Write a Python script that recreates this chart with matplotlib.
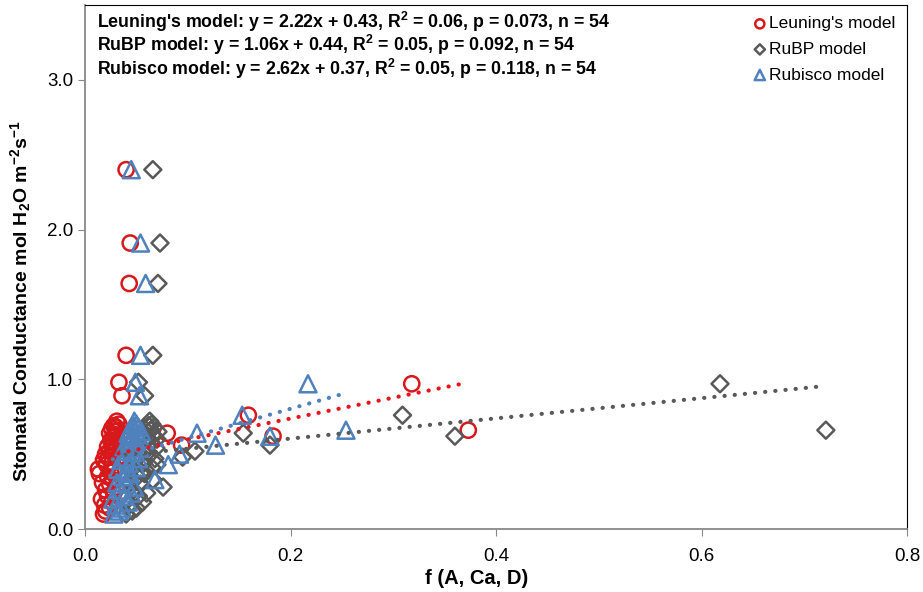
import matplotlib
matplotlib.use('Agg')
import matplotlib.pyplot as plt
import numpy as np

plt.rcParams['font.family'] = ['Liberation Sans', 'DejaVu Sans']
plt.rcParams['mathtext.fontset'] = 'custom'
plt.rcParams['mathtext.rm'] = 'Liberation Sans:bold'
plt.rcParams['mathtext.default'] = 'rm'

# observed stomatal conductance (shared by the three models)
gs = [2.40, 1.91, 1.64, 1.16, 0.98, 0.89, 0.97, 0.66, 0.76, 0.62, 0.64, 0.56,
      0.10, 0.12, 0.14, 0.16, 0.18, 0.20, 0.22, 0.24, 0.26, 0.28, 0.30, 0.31,
      0.33, 0.35, 0.37, 0.38, 0.40, 0.41, 0.43, 0.44, 0.46, 0.47, 0.48, 0.50,
      0.51, 0.52, 0.54, 0.55, 0.56, 0.58, 0.59, 0.60, 0.61, 0.63, 0.64, 0.65,
      0.66, 0.67, 0.68, 0.69, 0.70, 0.72]

# f(A, Ca, D) for each model
leuning_x = [0.040, 0.044, 0.043, 0.040, 0.033, 0.036, 0.318, 0.373, 0.159, 0.183, 0.080, 0.094,
             0.018, 0.020, 0.024, 0.019, 0.026, 0.016, 0.022, 0.028, 0.020, 0.030, 0.024, 0.017,
             0.027, 0.022, 0.014, 0.025, 0.013, 0.029, 0.021, 0.026, 0.018, 0.031, 0.023, 0.020,
             0.027, 0.024, 0.030, 0.022, 0.026, 0.028, 0.025, 0.031, 0.027, 0.029, 0.024, 0.030,
             0.032, 0.026, 0.030, 0.028, 0.033, 0.031]
rubp_x = [0.066, 0.073, 0.071, 0.066, 0.052, 0.058, 0.618, 0.721, 0.309, 0.360, 0.154, 0.180,
          0.040, 0.046, 0.050, 0.043, 0.056, 0.039, 0.052, 0.060, 0.047, 0.076, 0.054, 0.044,
          0.066, 0.051, 0.058, 0.055, 0.045, 0.065, 0.070, 0.057, 0.049, 0.068, 0.095, 0.053,
          0.061, 0.107, 0.069, 0.052, 0.062, 0.064, 0.057, 0.070, 0.060, 0.066, 0.056, 0.071,
          0.064, 0.058, 0.067, 0.062, 0.065, 0.063]
rubisco_x = [0.045, 0.054, 0.059, 0.054, 0.049, 0.053, 0.217, 0.254, 0.153, 0.180, 0.109, 0.127,
             0.028, 0.033, 0.036, 0.030, 0.042, 0.027, 0.038, 0.045, 0.034, 0.048, 0.040, 0.031,
             0.068, 0.037, 0.044, 0.041, 0.032, 0.050, 0.081, 0.043, 0.035, 0.052, 0.039, 0.092,
             0.046, 0.041, 0.053, 0.038, 0.047, 0.049, 0.043, 0.054, 0.046, 0.051, 0.042, 0.055,
             0.049, 0.044, 0.052, 0.047, 0.050, 0.048]

# trend lines as drawn (slope, intercept)
leuning_fit = (1.39, 0.46)
rubp_fit = (0.675, 0.469)
rubisco_fit = (1.95, 0.413)

stats = ["Leuning's model: y = 2.22x + 0.43, R$^2$ = 0.06, p = 0.073, n = 54",
         "RuBP model: y = 1.06x + 0.44, R$^2$ = 0.05, p = 0.092, n = 54",
         "Rubisco model: y = 2.62x + 0.37, R$^2$ = 0.05, p = 0.118, n = 54"]

red = '#E8141B'
gray = '#595959'
blue = '#4F81BD'

fig = plt.figure(figsize=(9.23, 5.92), dpi=100)
ax = fig.add_axes([0.0921, 0.1064, 0.8906, 0.8852])

ax.scatter(leuning_x, gs, s=120, marker='o', facecolors='none', edgecolors='#D7191C',
           linewidths=1.8, label="Leuning's model", zorder=2)
ax.scatter(rubp_x, gs, s=75, marker='D', facecolors='none', edgecolors=gray,
           linewidths=1.8, label='RuBP model', zorder=2)
ax.scatter(rubisco_x, gs, s=150, marker='^', facecolors='none', edgecolors=blue,
           linewidths=1.8, label='Rubisco model', zorder=3)

for xs, fit, c in [(rubp_x, rubp_fit, gray), (leuning_x, leuning_fit, red),
                   (rubisco_x, rubisco_fit, blue)]:
    xx = np.array([min(xs), max(xs)])
    ax.plot(xx, fit[0] * xx + fit[1], color=c, lw=3, linestyle=(0, (0.05, 2.4)),
            dash_capstyle='round', zorder=4)

ax.set_xlim(0, 0.8)
ax.set_ylim(0, 3.5)
ax.set_xticks([0.0, 0.2, 0.4, 0.6, 0.8])
ax.set_yticks([0.0, 1.0, 2.0, 3.0])
ax.set_xticklabels(['0.0', '0.2', '0.4', '0.6', '0.8'])
ax.set_yticklabels(['0.0', '1.0', '2.0', '3.0'])
ax.tick_params(labelsize=13.5, direction='out', length=5, color='#888888')
ax.tick_params(axis='x', pad=9)

for s in ['left', 'bottom']:
    ax.spines[s].set_color('#888888')
    ax.spines[s].set_linewidth(1.3)
for s in ['top', 'right']:
    ax.spines[s].set_color('black')
    ax.spines[s].set_linewidth(0.8)

ax.set_xlabel('f (A, Ca, D)', fontsize=14.5, fontweight='bold')
ax.xaxis.set_label_coords(0.477, -0.076)
ax.set_ylabel('Stomatal Conductance mol H$_2$O m$^{-2}$s$^{-1}$', fontsize=14,
              fontweight='bold')
ax.yaxis.set_label_coords(-0.063, 0.435)

for i, t in enumerate(stats):
    ax.text(0.014, 0.968 - i * 0.045, t, transform=ax.transAxes, fontsize=12.8,
            fontweight='bold', va='center')

leg = ax.legend(loc='upper right', frameon=False, fontsize=12.5, handletextpad=0.05,
                labelspacing=0.6, borderaxespad=0.25, markerscale=0.6, handlelength=1.0)

fig.savefig('out.png', dpi=100)
